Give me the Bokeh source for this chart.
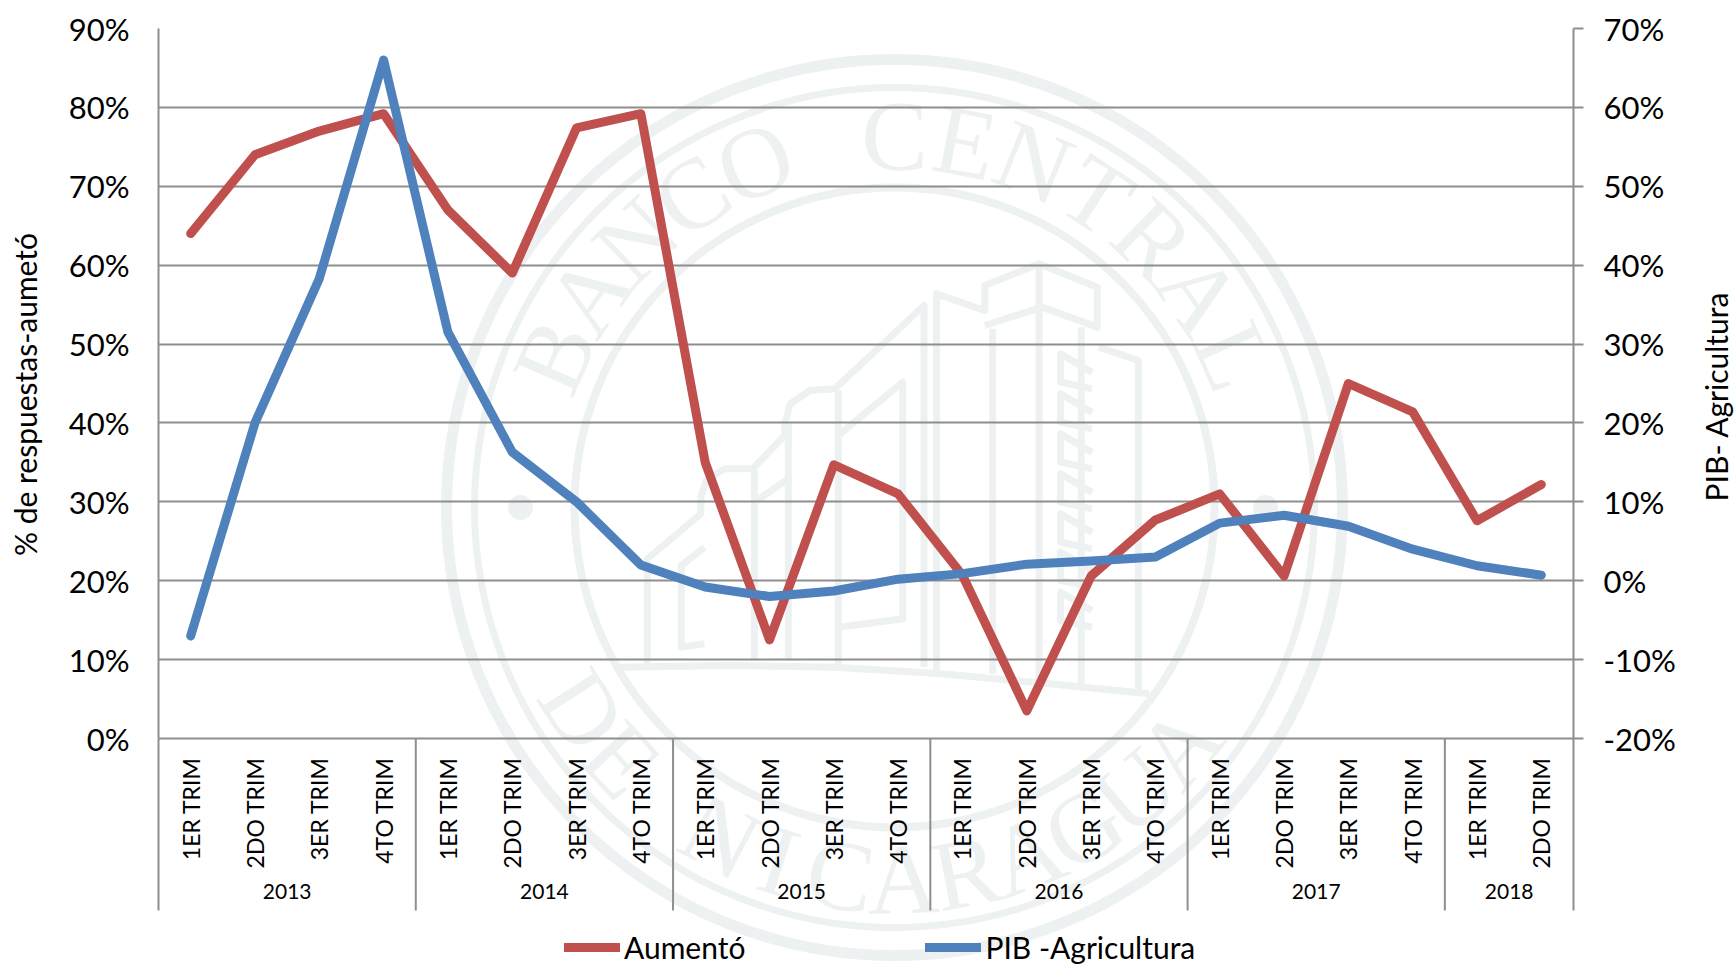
import numpy as np
from math import pi, radians, sin, cos
from bokeh.plotting import figure
from bokeh.layouts import column
from bokeh.core.properties import value
from bokeh.embed import file_html
from bokeh.resources import INLINE
from bokeh.models import (FactorRange, Range1d, LinearAxis, FixedTicker, PrintfTickFormatter,
                          Legend, LegendItem)

years = ["2013", "2014", "2015", "2016", "2017", "2018"]
quarters_per_year = [4, 4, 4, 4, 4, 2]
quarter_names = ["1ER TRIM", "2DO TRIM", "3ER TRIM", "4TO TRIM"]
aumento = [64, 74, 77, 79.2, 67, 59, 77.4, 79.2, 35, 12.5, 34.7, 31,
           20.7, 3.5, 20.6, 27.7, 31, 20.6, 45, 41.4, 27.6, 32.2]
pib_agricultura = [-7, 20, 38.3, 66, 31.5, 16.3, 10, 2, -0.8, -2, -1.3, 0.2,
                   0.9, 2.1, 2.5, 3, 7.3, 8.3, 6.9, 4, 1.9, 0.7]
left_ticks = [0, 10, 20, 30, 40, 50, 60, 70, 80, 90]
right_ticks = [-20, -10, 0, 10, 20, 30, 40, 50, 60, 70]

factors = [(y, quarter_names[q]) for y, n in zip(years, quarters_per_year) for q in range(n)]

FONT = "Lato"
GRAY = "#8e8e8e"
RED = "#c0504d"
BLUE = "#4f81bd"
PALE = "#edf1f1"
LINE_W = 9
W, H = 1735, 965
L, T, FW, FH = 158, 28, 1415, 710

# ---- background figure in page pixels: watermark, axis titles, legend and the rules that leave the frame
bg = figure(x_range=Range1d(0, W), y_range=Range1d(H, 0), width=W, height=H, output_backend="svg",
            toolbar_location=None, min_border=0, outline_line_color=None, frame_align=False)
bg.axis.visible = False
bg.grid.visible = False
CX, CY = 894, 507
for r, w in ((448, 11), (420, 7), (320, 8)):
    bg.circle([CX], [CY], radius=r, fill_alpha=0, line_color=PALE, line_width=w)
bg.circle([CX - 374, CX + 371], [CY, CY], radius=12, fill_color=PALE, line_color=PALE)
def arc_text(s, a0, a1, r, top):
    for i, ch in enumerate(s):
        if ch == " ":
            continue
        a = radians(a0 + (a1 - a0) * i / (len(s) - 1))
        x = CX + r * sin(a)
        y = CY - r * cos(a) if top else CY + r * cos(a)
        bg.text([x], [y], text=[ch], angle=-a if top else a, text_font=value("Liberation Serif"),
                text_font_size="100px", text_color=PALE, text_align="center", text_baseline="middle")
arc_text("BANCO CENTRAL", -66, 66, 372, True)
arc_text("DE NICARAGUA", -57, 50, 372, False)
building = [
    [(75,1240),(75,925),(225,790),(225,740),(240,690),(290,655),(370,655),(460,555),(460,520),(475,460),(530,420),(600,415),(850,165),(850,1250)],
    [(235,890),(170,945),(170,1190),(235,1180)],
    [(375,660),(375,1230)],
    [(375,755),(470,685)],
    [(470,520),(470,1230)],
    [(610,420),(610,1240)],
    [(610,555),(790,395),(790,1105),(610,1130)],
    [(885,1260),(885,130),(1020,180),(1020,105),(1172,40),(1335,110),(1335,230),(1180,170),(1020,225)],
    [(1172,40),(1172,1290)],
    [(1042,235),(1042,1270)],
    [(1290,230),(1290,1300)],
    [(1340,290),(1450,330),(1450,1320)],
    [(0,1250),(300,1245),(600,1250),(900,1270),(1200,1300),(1480,1330)],
]
for y0 in (310, 430, 550, 670, 790, 905, 1025):
    building.append([(1320, y0 + 55), (1232, y0), (1232, y0 + 85), (1320, y0 + 105)])
for pts in building:
    bg.line([620 + a / 2.8 for a, b in pts], [250 + b / 3 for a, b in pts], line_color=PALE, line_width=7,
            line_join="round")
cum = np.cumsum([0] + quarters_per_year)
sep = L + FW * cum / cum[-1]
bg.segment(sep, [T + FH] * len(sep), sep, [910] * len(sep), line_color=GRAY, line_width=2)
for txt, sx, sy in (("% de respuestas-aumetó", 24, 394), ("PIB- Agricultura", 1715, 396)):
    bg.text([sx], [sy], text=[txt], angle=pi / 2, text_font=value(FONT), text_font_size="30px",
            text_color="black", text_align="center", text_baseline="middle")
# legend keys: off-canvas stand-ins so the legend can sit outside the chart's frame
k1 = bg.line([-100, -50], [-100, -100], line_color=RED, line_width=LINE_W, line_cap="round")
k2 = bg.line([-100, -50], [-100, -100], line_color=BLUE, line_width=LINE_W, line_cap="round")
legend = Legend(items=[LegendItem(label="Aumentó", renderers=[k1]),
                       LegendItem(label="PIB -Agricultura", renderers=[k2])],
                orientation="horizontal", location=(564, 0), background_fill_alpha=0, border_line_color=None,
                glyph_width=56, glyph_height=20, label_standoff=4, spacing=180, padding=0, margin=0,
                label_text_font=FONT, label_text_font_size="30px", label_text_color="black")
bg.add_layout(legend, "center")

# ---- chart
p = figure(x_range=FactorRange(*factors, factor_padding=0, group_padding=0, subgroup_padding=0, range_padding=0),
           y_range=Range1d(0, 90), width=W, height=H, output_backend="svg", toolbar_location=None,
           frame_width=FW, frame_height=FH, min_border_left=L, min_border_top=T,
           min_border_right=W - L - FW, min_border_bottom=H - T - FH, frame_align=False,
           margin=(-H, 0, 0, 0), background_fill_color=None, border_fill_color=None)
p.outline_line_color = None
p.extra_y_ranges["pib"] = Range1d(-20, 70)

p.xgrid.visible = False
p.ygrid.ticker = FixedTicker(ticks=left_ticks)
p.ygrid.grid_line_color = GRAY
p.ygrid.grid_line_width = 2

ya = p.yaxis[0]
ya.ticker = FixedTicker(ticks=left_ticks)
ya.formatter = PrintfTickFormatter(format="%d%%")
ya.major_tick_line_color = None
ya.minor_tick_line_color = None
ya.axis_line_color = GRAY
ya.axis_line_width = 2
ya.major_label_text_font = FONT
ya.major_label_text_font_size = "31px"
ya.major_label_text_color = "black"
ya.major_label_standoff = 23

ra = LinearAxis(y_range_name="pib", ticker=FixedTicker(ticks=right_ticks),
                formatter=PrintfTickFormatter(format="%d%%"))
ra.major_tick_out = 10
ra.major_tick_in = 0
ra.major_tick_line_color = GRAY
ra.major_tick_line_width = 2
ra.minor_tick_line_color = None
ra.axis_line_color = GRAY
ra.axis_line_width = 2
ra.major_label_text_font = FONT
ra.major_label_text_font_size = "31px"
ra.major_label_text_color = "black"
ra.major_label_standoff = 20
p.add_layout(ra, "right")

xa = p.xaxis[0]
xa.axis_line_color = GRAY
xa.axis_line_width = 2
xa.major_tick_line_color = None
xa.major_label_orientation = pi / 2
xa.major_label_text_font = FONT
xa.major_label_text_font_size = "23px"
xa.major_label_text_color = "black"
xa.major_label_standoff = 13
xa.group_text_font = FONT
xa.group_text_font_size = "21px"
xa.group_text_font_style = "normal"
xa.group_text_color = "black"
xa.separator_line_color = None

p.line(factors, aumento, line_color=RED, line_width=LINE_W, line_cap="round", line_join="round")
p.line(factors, pib_agricultura, y_range_name="pib", line_color=BLUE, line_width=LINE_W,
       line_cap="round", line_join="round")

open("out.html", "w").write(file_html(column(bg, p, spacing=0), INLINE))
